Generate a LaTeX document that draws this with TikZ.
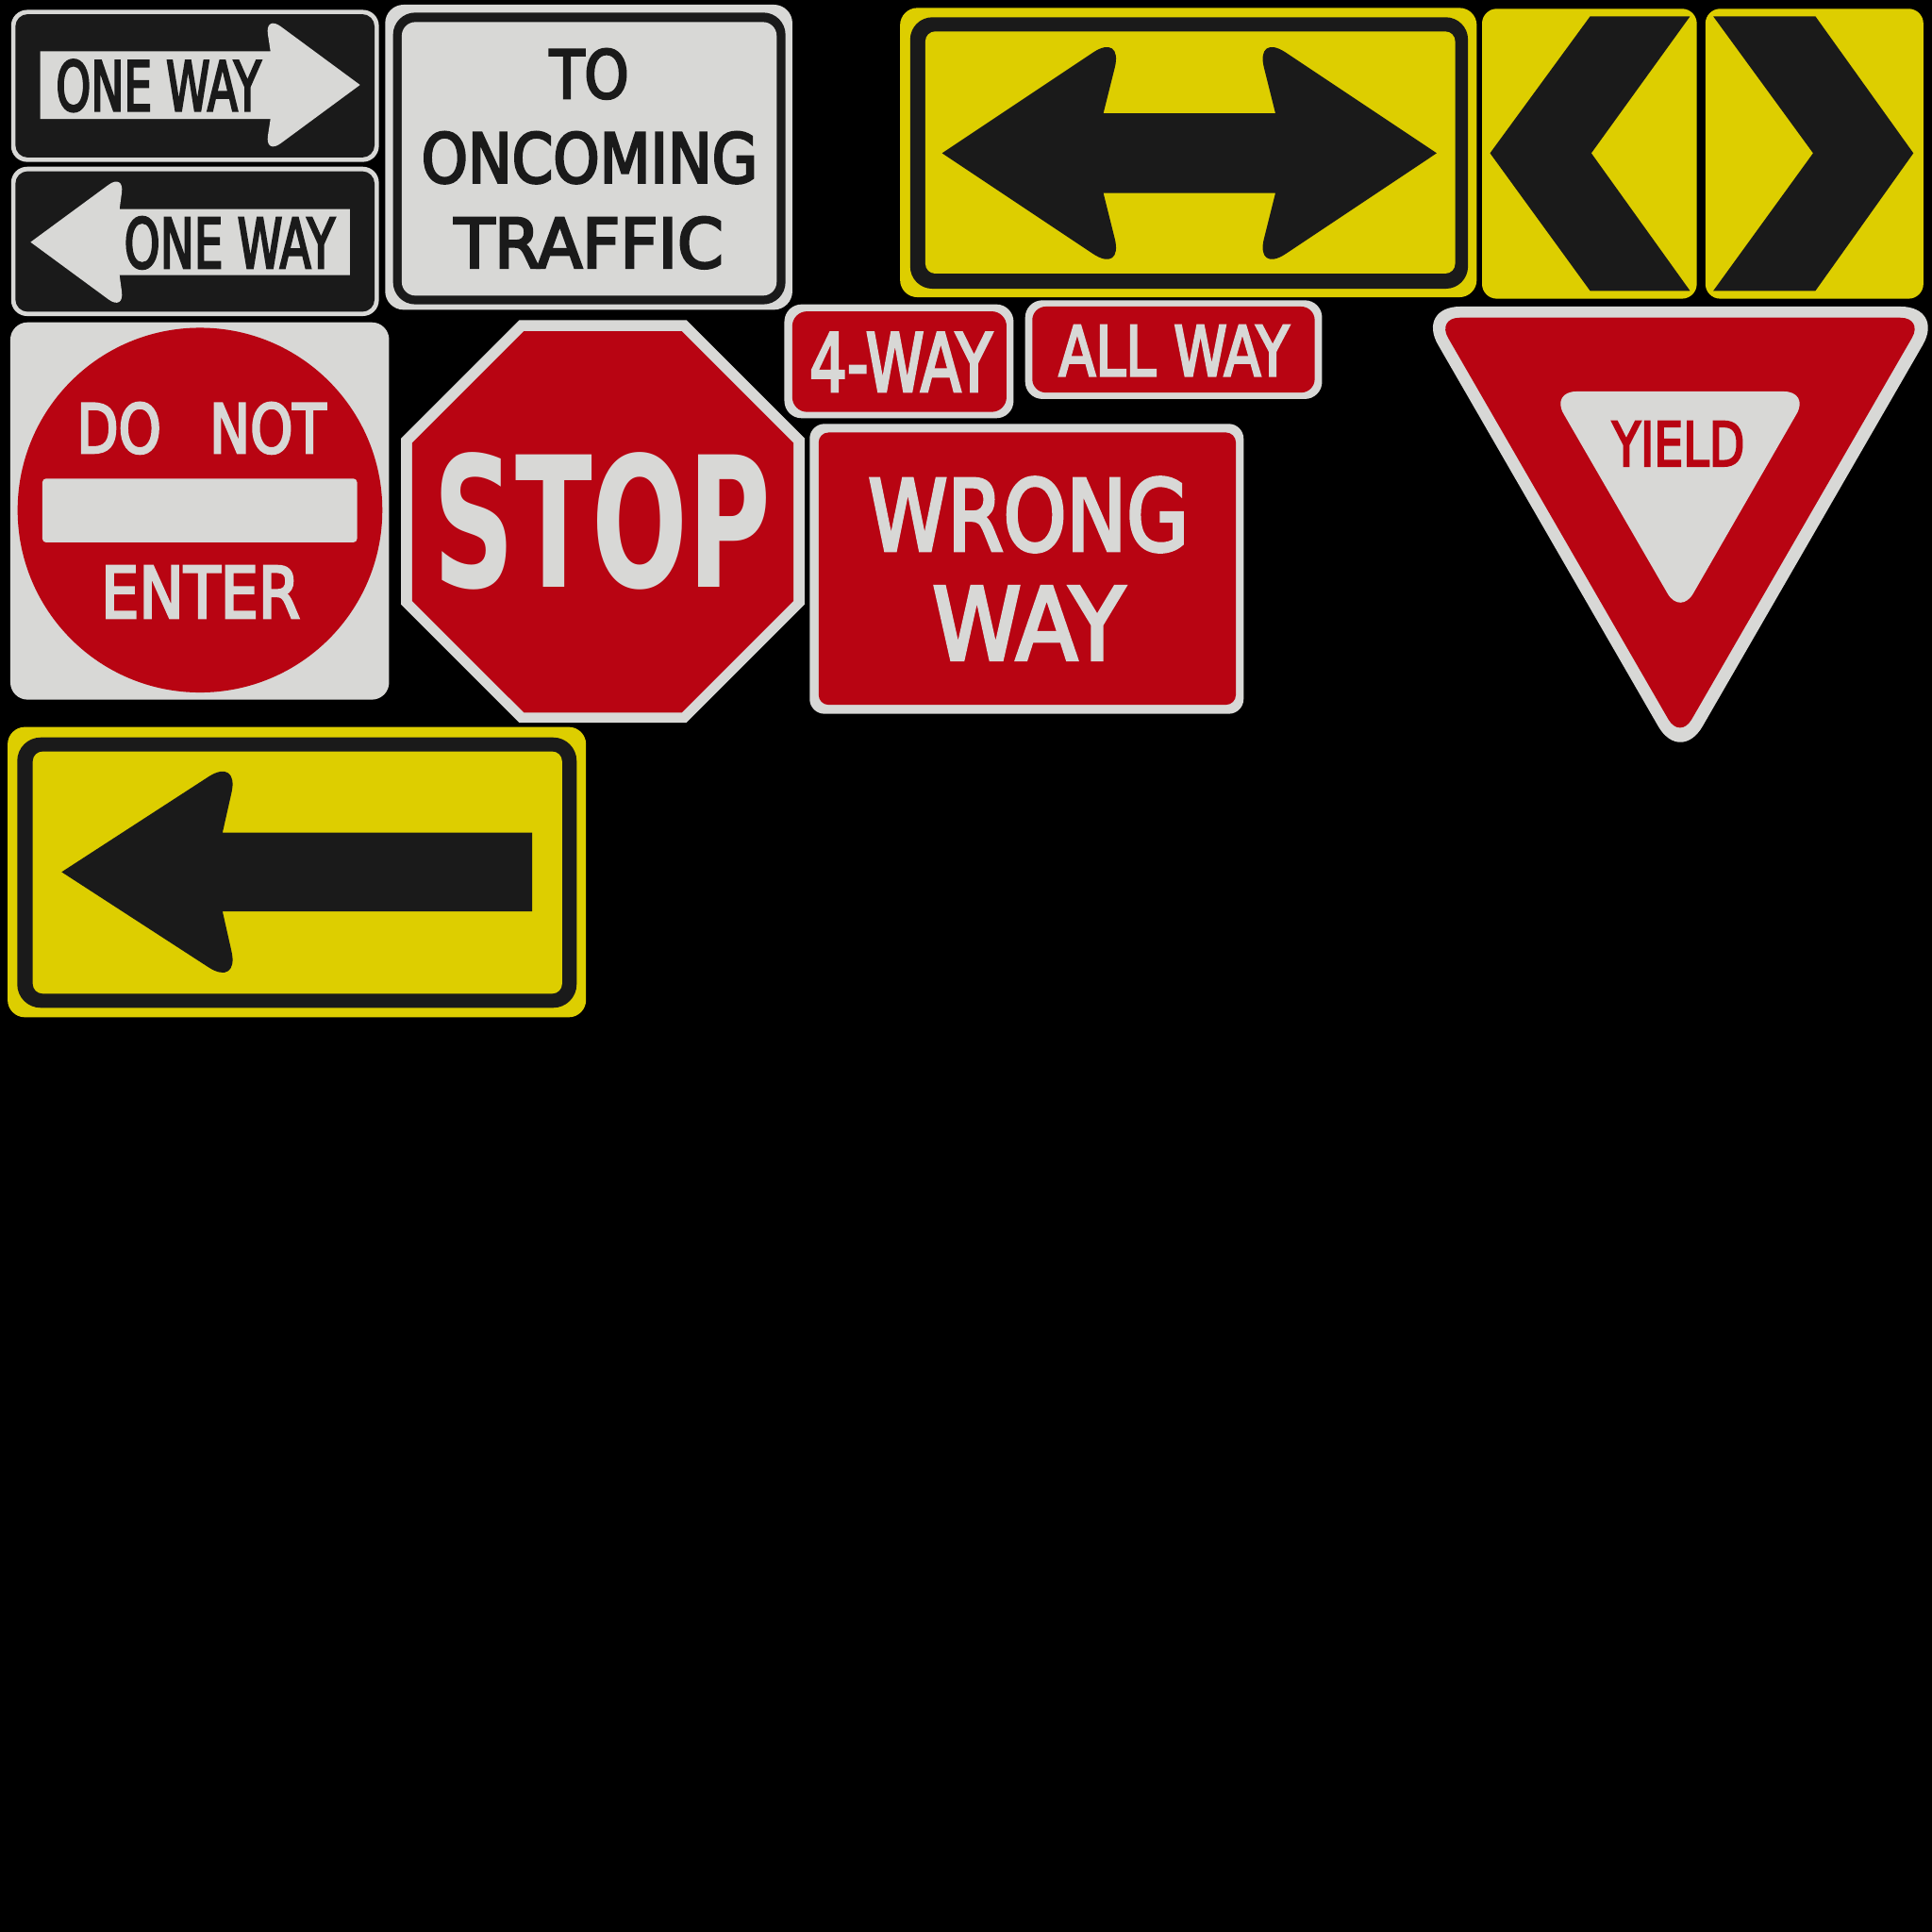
\documentclass[tikz,border=0pt]{standalone}
\usepackage{fontspec}
\usepackage{graphicx}
\usepackage{tikz}
\newfontfamily\signfont[FakeBold=3.5]{DejaVu Sans Condensed}
\newfontfamily\stopfont{DejaVu Sans Condensed}
\definecolor{signwhite}{RGB}{216,216,214}
\definecolor{signred}{RGB}{184,4,18}
\definecolor{signyellow}{RGB}{221,206,0}
\definecolor{signblack}{RGB}{26,26,26}
\newlength{\pxu}
\setlength{\pxu}{0.1mm}
\newcommand{\signtxt}[3]{\resizebox*{#1\pxu}{#2\pxu}{#3}}
\tikzset{
  pan_w/.style = {fill=signwhite},% panneau blanc
  pan_r/.style = {fill=signred},% panneau rouge
  pan_y/.style = {fill=signyellow},% panneau jaune
  pan_b/.style = {fill=signblack},% panneau noir
  lbl/.style = {inner sep=0pt, outer sep=0pt, anchor=north west,
    font=\signfont},
  lbl_b/.style = {lbl, text=signblack},
  lbl_w/.style = {lbl, text=signwhite},
  lbl_r/.style = {lbl, text=signred},
}

\begin{document}
\begin{tikzpicture}[x=0.1mm,y=-0.1mm]
  \fill[black] (0,0) rectangle (1568,1568);
  \useasboundingbox (0,0) rectangle (1568,1568);
%   one way, right
  \fill[pan_w, rounded corners=1.3mm] (9,8) rectangle (307.5,131.4);
  \fill[pan_b, rounded corners=1mm] (12.5,11.5) rectangle (304,127.8);
  \fill[pan_w] (219.5,41.6) [rounded corners=1.6mm] -- (215,12) [sharp corners] -- (292.2,68.9) [rounded corners=1.6mm] -- (215,125.8) [sharp corners] -- (219.5,96.6) -- (32.7,96.6) -- (32.7,41.6) -- cycle;
  \node[lbl_b] (oneway1) at (45.4,48.5) {\signtxt{166.4}{42.1}{ONE WAY}};
%   one way, left
  \fill[pan_w, rounded corners=1.3mm] (9,135.3) rectangle (307.5,256.5);
  \fill[pan_b, rounded corners=1mm] (12.5,139) rectangle (304,253);
  \fill[pan_w] (97,169.7) [rounded corners=1.6mm] -- (101,140.5) [sharp corners] -- (24.8,196.5) [rounded corners=1.6mm] -- (101,252.5) [sharp corners] -- (97,223.3) -- (284,223.3) -- (284,169.7) -- cycle;
  \node[lbl_b] (oneway2) at (100.8,176) {\signtxt{171}{42.2}{ONE WAY}};
%   to oncoming traffic
  \fill[pan_w, rounded corners=1.5mm] (312.6,3.8) rectangle (643.1,251.4);
  \fill[pan_b, rounded corners=1.8mm] (319,10.2) rectangle (637.5,247);
  \fill[pan_w, rounded corners=1.1mm] (326.1,17.9) rectangle (630.3,239.9);
  \node[lbl_b] (to) at (446.1,39.6) {\signtxt{64.3}{40.8}{TO}};
  \node[lbl_b] (oncoming) at (342,107) {\signtxt{273}{42}{ONCOMING}};
  \node[lbl_b] (traffic) at (368.8,176) {\signtxt{218.2}{42}{TRAFFIC}};
%   double arrow
  \fill[pan_y, rounded corners=1.4mm] (730.5,6.4) rectangle (1198.5,241.2);
  \fill[pan_b, rounded corners=1.8mm] (738.7,14) rectangle (1191.4,234.3);
  \fill[pan_y, rounded corners=0.8mm] (751,25.5) rectangle (1181,222);
  \fill[pan_b] (895.5,91.9) [rounded corners=3mm] -- (912,26) [sharp corners] -- (764.6,124.3) [rounded corners=3mm] -- (912,222.6) [sharp corners] -- (895.5,156.7) -- (1035.1,156.7) [rounded corners=3mm] -- (1018.6,222.6) [sharp corners] -- (1166,124.3) [rounded corners=3mm] -- (1018.6,26) [sharp corners] -- (1035.1,91.9) -- cycle;
%   chevrons
  \fill[pan_y, rounded corners=1.2mm] (1202.8,7.1) rectangle (1377.1,242.4);
  \fill[pan_b] (1290.5,13.3) -- (1371.6,13.3) -- (1291.5,124.3) -- (1371.6,236) -- (1290.5,236) -- (1209.3,124.3) -- cycle;
  \fill[pan_y, rounded corners=1.2mm] (1384.1,7.1) rectangle (1561,242.4);
  \fill[pan_b] (1390.5,13.3) -- (1473.4,13.3) -- (1552.9,124.3) -- (1473.4,236) -- (1390.5,236) -- (1471.5,124.3) -- cycle;
%   do not enter
  \fill[pan_w, rounded corners=1.4mm] (8.4,261.6) rectangle (315.8,567.8);
  \fill[pan_r] (162.3,414) circle [radius=14.8mm];
  \fill[pan_w, rounded corners=0.3mm] (34.4,388.4) rectangle (289.8,440.2);
  \node[lbl_w] (donot) at (62.2,326.7) {\signtxt{202.4}{41.6}{DO\hspace{0.8em}NOT}};
  \node[lbl_w] (enter) at (82,459.4) {\signtxt{161.6}{42.1}{ENTER}};
%   stop
  \fill[pan_w] (421.4,259.8) -- (557.1,259.8) -- (653,355.7) -- (653,490.6) -- (557.1,586.5) -- (421.4,586.5) -- (325.5,490.6) -- (325.5,355.7) -- cycle;
  \fill[pan_r] (425.2,268.8) -- (553.4,268.8) -- (644,359.5) -- (644,487.7) -- (553.4,578.3) -- (425.2,578.3) -- (334.5,487.7) -- (334.5,359.5) -- cycle;
  \node[lbl_w, font=\stopfont\bfseries] (stop) at (352,367) {\signtxt{273.7}{111.5}{STOP}};
%   4-way, all way
  \fill[pan_w, rounded corners=1.4mm] (636.6,247) rectangle (822.6,339.4);
  \fill[pan_r, rounded corners=1.2mm] (643,252.7) rectangle (816.9,334.3);
  \node[lbl_w] (fourway) at (657,270) {\signtxt{148}{47.7}{4-WAY}};
  \fill[pan_w, rounded corners=1.4mm] (832,243.7) rectangle (1073,323.8);
  \fill[pan_r, rounded corners=1.1mm] (837.8,248.8) rectangle (1067,318.6);
  \node[lbl_w] (allway) at (859.3,264) {\signtxt{186.9}{41}{ALL\hspace{0.3em}WAY}};
%   wrong way
  \fill[pan_w, rounded corners=1.2mm] (657.1,344) rectangle (1009.3,579.3);
  \fill[pan_r, rounded corners=0.8mm] (664.4,351) rectangle (1003,572);
  \node[lbl_w] (wrong) at (704.6,387.4) {\signtxt{260.1}{60.5}{WRONG}};
  \node[lbl_w] (way) at (756.7,476) {\signtxt{155.9}{59.4}{WAY}};
%   yield
  \fill[pan_w, rounded corners=3.6mm] (1149.2,248.8) -- (1578.5,248.8) -- (1363.8,620.6) -- cycle;
  \fill[pan_r, rounded corners=1.9mm] (1165.8,257.8) -- (1561.2,257.8) -- (1363.5,600.2) -- cycle;
  \fill[pan_w, rounded corners=2.1mm] (1258.5,317.7) -- (1468.6,317.7) -- (1363.8,499.7) -- cycle;
  \node[lbl_r] (yield) at (1308.4,342) {\signtxt{107.6}{36.2}{YIELD}};
%   left arrow
  \fill[pan_y, rounded corners=1.4mm] (6.2,590) rectangle (475.6,825.6);
  \fill[pan_b, rounded corners=1.9mm] (14,598.5) rectangle (468,817.9);
  \fill[pan_y, rounded corners=0.8mm] (26.6,609.9) rectangle (456.2,806.4);
  \fill[pan_b] (180.6,675.8) [rounded corners=3mm] -- (194.5,614) [sharp corners] -- (50,707.7) [rounded corners=3mm] -- (194.5,801.4) [sharp corners] -- (180.6,739.6) -- (432,739.6) -- (432,675.8) -- cycle;
\end{tikzpicture}
\end{document}
